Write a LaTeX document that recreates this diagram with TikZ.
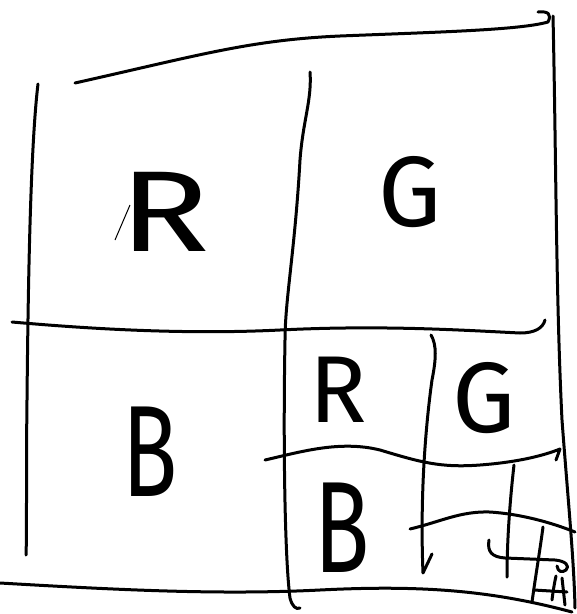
\documentclass[tikz,border=0pt]{standalone}
\usepackage{fontspec}
\setmainfont{Fira Sans}
\begin{document}
\begin{tikzpicture}[x=1pt,y=-1pt,
  stroke/.style={line width=3pt,line cap=round,line join=round},
  letter/.style={inner sep=0pt,font=\fontspec{Fira Sans Medium}}]
\useasboundingbox (0,0) rectangle (577,614);
\fill[white] (0,0) rectangle (577,614);
% outer frame
\draw[stroke] (75,83) .. controls (200,55) and (250,40) .. (340,36) .. controls (440,32) and (520,30) .. (548,22) .. controls (552,14) and (548,11) .. (538,12);
\draw[stroke] (553,16) .. controls (556,150) and (556,300) .. (562,420) .. controls (568,500) and (574,560) .. (575,608);
\draw[stroke] (38,84) .. controls (30,150) and (28,300) .. (27,400) .. controls (26,480) and (27,530) .. (26,555);
\draw[stroke] (0,583) .. controls (120,590) and (220,595) .. (320,590) .. controls (420,585) and (490,590) .. (572,612);
% middle vertical
\draw[stroke] (310,72) .. controls (312,100) and (303,120) .. (300,160) .. controls (295,250) and (285,300) .. (285,340) .. controls (283,450) and (285,560) .. (290,598) .. controls (292,606) and (296,610) .. (300,608);
% middle horizontal
\draw[stroke] (12,322) .. controls (80,328) and (180,335) .. (280,330) .. controls (380,325) and (460,330) .. (520,333) .. controls (535,333) and (543,328) .. (545,320);
% small quadrant
\draw[stroke] (431,335) .. controls (437,345) and (436,360) .. (432,380) .. controls (425,430) and (420,500) .. (423,573) -- (432,554);
\draw[stroke] (265,460) .. controls (300,452) and (340,440) .. (380,450) .. controls (420,462) and (440,468) .. (480,465) .. controls (520,462) and (545,455) .. (560,449) -- (556,460);
\draw[stroke] (410,529) .. controls (440,522) and (460,511) .. (490,512) .. controls (520,514) and (550,522) .. (575,532);
\draw[stroke] (514,465) .. controls (510,500) and (507,540) .. (507,577);
% tiny grid
\draw[stroke] (489,540) .. controls (487,552) and (492,557) .. (505,558) -- (555,560) .. controls (566,561) and (570,566) .. (566,570) .. controls (562,573) and (558,572) .. (557,566);
\draw[stroke] (543,527) .. controls (540,550) and (535,580) .. (532,602);
\draw[stroke] (534,590) -- (567,592);
\draw[stroke] (556,576) .. controls (554,585) and (553,592) .. (552,600);
\draw[stroke] (562,578) -- (565,605);
% letters
\node[letter,font=\fontsize{115}{115}\selectfont,xscale=1.3] (r1) at (165,212) {R};
\draw[line width=1pt] (115,240) -- (130,205);
\node[letter,font=\fontsize{100}{100}\selectfont] (g1) at (410,192) {G};
\node[letter,font=\fontsize{130}{130}\selectfont,xscale=0.7] (b1) at (150,452) {B};
\node[letter,font=\fontsize{95}{95}\selectfont] (r2) at (338,390) {R};
\node[letter,font=\fontsize{100}{100}\selectfont] (g2) at (484,398) {G};
\node[letter,font=\fontsize{130}{130}\selectfont,xscale=0.7] (b2) at (342,528) {B};
\end{tikzpicture}
\end{document}
